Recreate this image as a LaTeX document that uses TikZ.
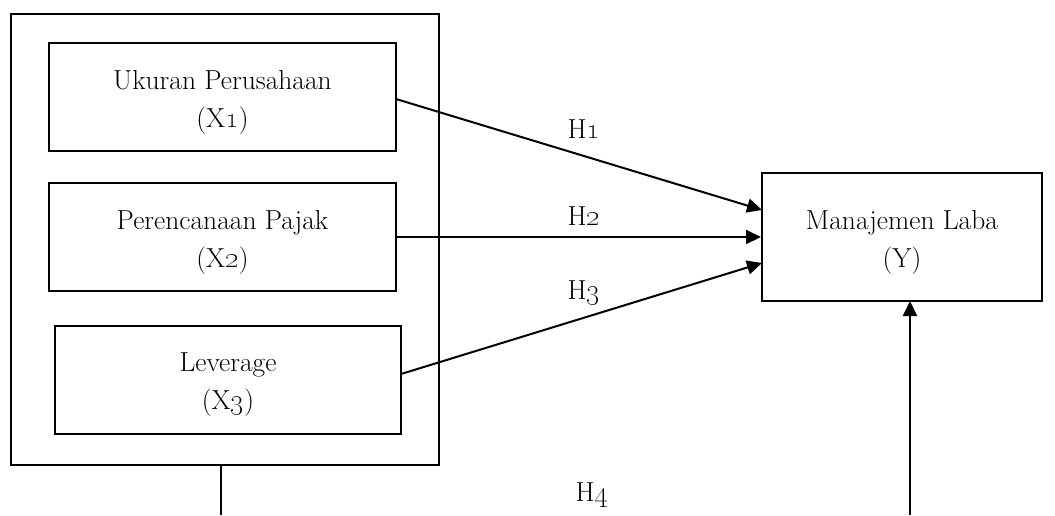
\documentclass[tikz,border=0pt]{standalone}
\usetikzlibrary{arrows.meta}
\begin{document}
\begin{tikzpicture}[x=1pt,y=-1pt,line width=2pt,
  lbl/.style={font=\fontsize{27.5}{38}\selectfont,align=center,inner sep=0pt},
  box/.style={draw,minimum height=108pt,inner sep=0pt},
  arr/.style={-{Triangle[length=15pt,width=14pt]}}]
\useasboundingbox (0,0) rectangle (1055,515);
% outer group box
\draw (11,14) rectangle (439,465);
\node[box,minimum width=347pt] (x1) at (222.5,97) {};
\node[box,minimum width=347pt] (x2) at (222.5,237) {};
\node[box,minimum width=346pt] (x3) at (228,380) {};
\node[box,minimum width=280pt,minimum height=128pt] (y) at (902,237) {};
\node[lbl,yshift=-5pt] (t1) at (x1.center) {Ukuran Perusahaan\\(X\oldstylenums{1})};
\node[lbl,yshift=-5pt] (t2) at (x2.center) {Perencanaan Pajak\\(X\oldstylenums{2})};
\node[lbl,yshift=-5pt] (t3) at (x3.center) {Leverage\\(X\oldstylenums{3})};
\node[lbl,yshift=-5pt] (ty) at (y.center) {Manajemen Laba\\(Y)};
\coordinate (a1) at (396,99);
\coordinate (e1) at (762,210);
\coordinate (a3) at (401,374);
\coordinate (e3) at (762,263);
\draw[arr] (a1) -- (e1);
\draw[arr] (x2.east) -- (y.west);
\draw[arr] (a3) -- (e3);
\node[lbl] (h1) at (584,129) {H\oldstylenums{1}};
\node[lbl] (h2) at (584,216) {H\oldstylenums{2}};
\node[lbl] (h3) at (584,293) {H\oldstylenums{3}};
\node[lbl] (h4) at (592,495) {H\oldstylenums{4}};
\coordinate (b1) at (221,515);
\coordinate (b2) at (910,515);
\draw (221,465) -- (b1);
\draw[arr] (b2) -- (910,301);
\end{tikzpicture}
\end{document}
